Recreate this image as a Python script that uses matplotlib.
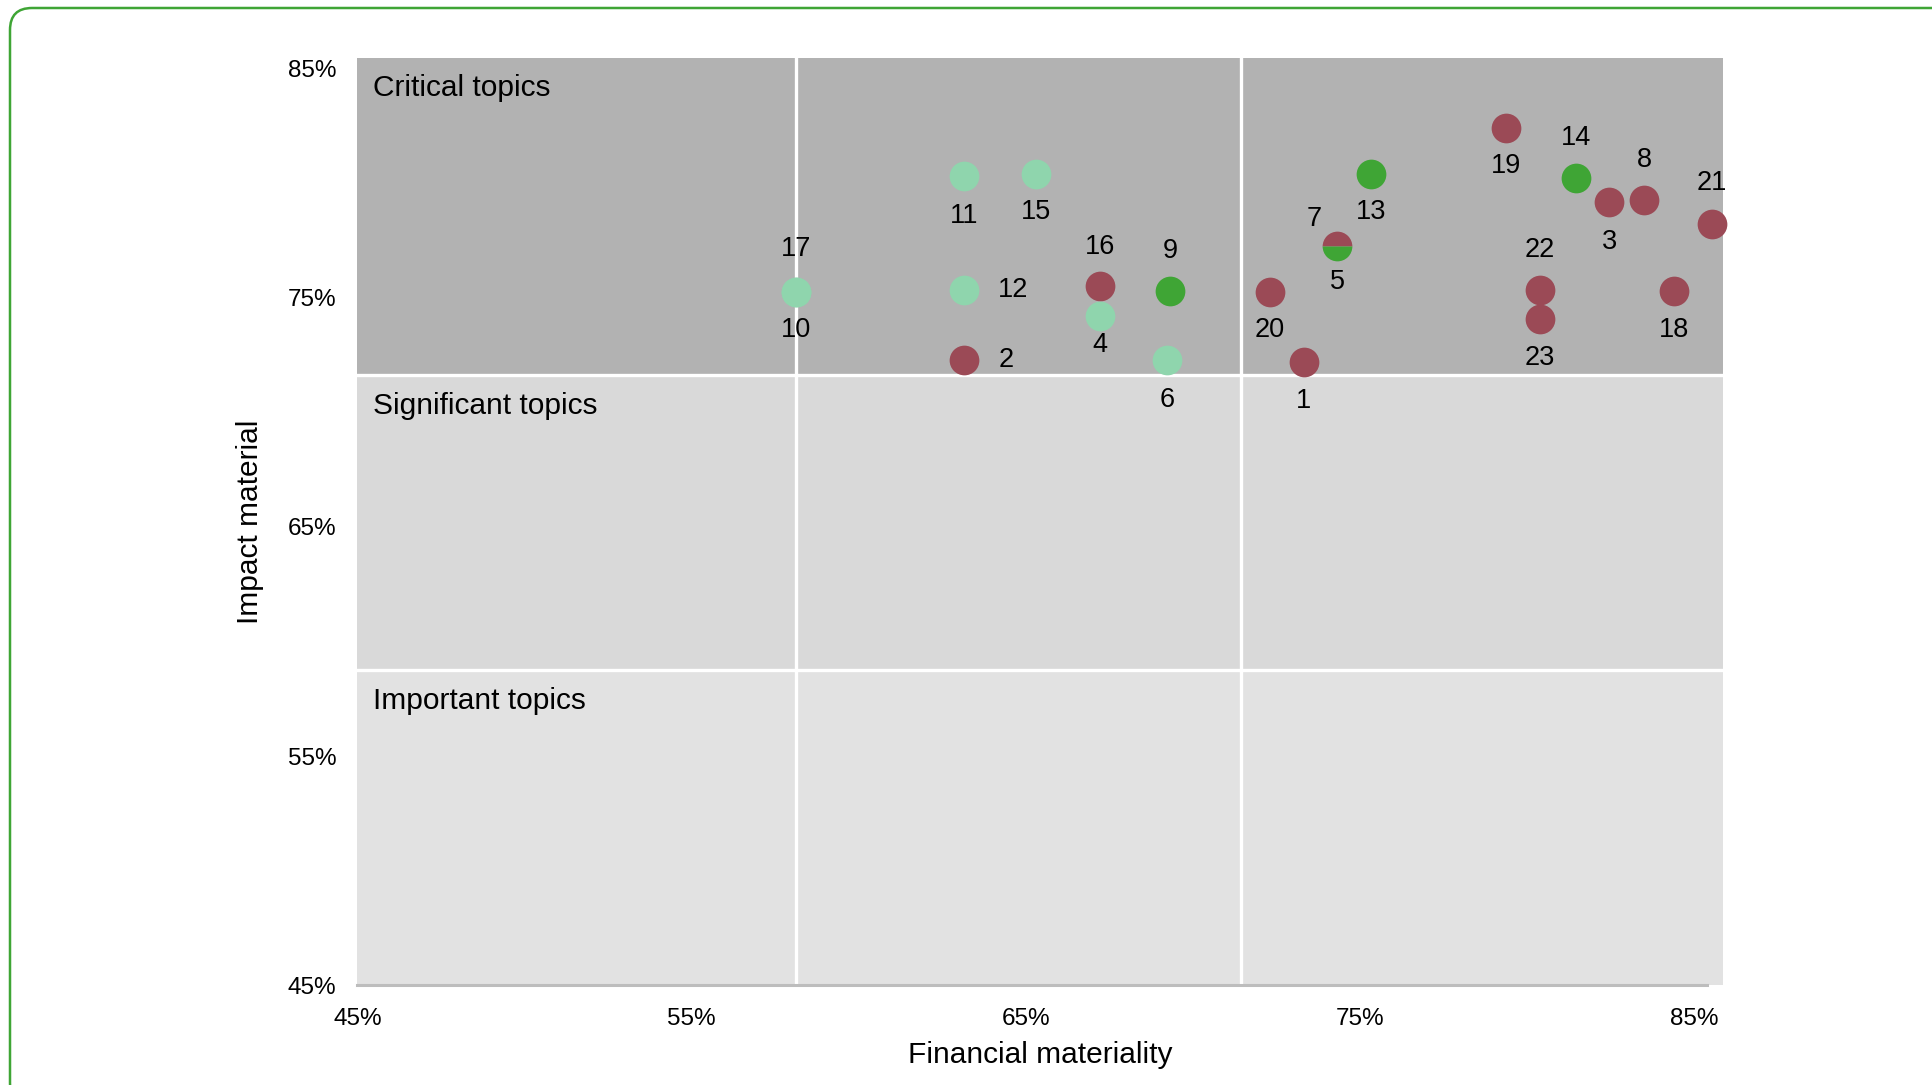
import matplotlib.pyplot as plt
from matplotlib.patches import FancyBboxPatch
from matplotlib.transforms import IdentityTransform

plt.rcParams['font.family'] = ['Liberation Sans', 'DejaVu Sans']

# topic data (financial materiality %, impact materiality %)
topics = ['17', '10', '11', '15', '12', '2', '16', '4', '9', '6', '20', '1',
          '7', '5', '13', '19', '14', '3', '8', '21', '22', '23', '18']
financial = [58.13, 58.13, 63.16, 65.31, 63.16, 63.16, 67.22, 67.22, 69.32, 69.23, 72.30, 73.33,
             74.33, 74.33, 75.35, 79.38, 81.47, 82.47, 83.51, 85.53, 80.40, 80.40, 84.40]
impact = [75.25, 75.25, 80.30, 80.42, 75.35, 72.27, 75.53, 74.22, 75.28, 72.27, 75.27, 72.18,
          77.25, 77.25, 80.40, 82.41, 80.22, 79.17, 79.28, 78.23, 75.35, 74.08, 75.31]
group = ['social', 'social', 'social', 'social', 'social', 'governance', 'governance', 'social',
         'environment', 'social', 'governance', 'governance', 'governance', 'environment',
         'environment', 'governance', 'environment', 'governance', 'governance', 'governance',
         'governance', 'governance', 'governance']

ticks = [45, 55, 65, 75, 85]
tick_labels = ['45%', '55%', '65%', '75%', '85%']

# zone limits
x_cuts = [58.12, 71.46]
y_cuts = [58.76, 71.62]
zones = ['Important topics', 'Significant topics', 'Critical topics']

colors = {'governance': '#9b4a56', 'social': '#8fd5ad', 'environment': '#3fa535'}
zone_colors = ['#e2e2e2', '#d9d9d9', '#b2b2b2']

# where each number goes relative to its dot (points)
label_pos = {'17': (0, 31), '16': (0, 27.5), '9': (0, 29), '14': (0, 29), '8': (0, 28.4),
             '21': (0, 29), '22': (0, 28.4), '12': (35.5, 0), '2': (30, 0), '7': (-17, 19.5),
             '4': (0, -21.3), '5': (0, -25.7), '10': (0, -27.5), '15': (0, -27.5),
             '20': (0, -27.5), '1': (0, -27.5), '13': (0, -27.5), '19': (0, -27.5)}

fig = plt.figure(figsize=(19.32, 10.85), dpi=100)
ax = fig.add_axes([0.1850, 0.0919, 0.7066, 0.8548])

xmin, xmax = 45, 85.86
ymin, ymax = 45, 85.47
ax.set_xlim(xmin, xmax)
ax.set_ylim(ymin, ymax)

bounds = [ymin] + y_cuts + [ymax]
for i in range(3):
    ax.axhspan(bounds[i], bounds[i + 1], color=zone_colors[i], lw=0, zorder=0)
    ax.annotate(zones[i], (xmin, bounds[i + 1]), xytext=(11.5, -22), textcoords='offset points',
                fontsize=21.5, va='center', ha='left', zorder=3)
for xc in x_cuts:
    ax.axvline(xc, color='white', lw=2.4, zorder=1)
for yc in y_cuts:
    ax.axhline(yc, color='white', lw=2.4, zorder=1)

# base line
ax.axhline(ymin, xmin=0, xmax=(85.4 - xmin) / (xmax - xmin), color='#bdbdbd', lw=2.2,
           zorder=2, clip_on=False)

for name, fx, iy, g in zip(topics, financial, impact, group):
    if name == '7':
        ax.plot(fx, iy, 'o', ms=21.4, mew=0, fillstyle='top', markerfacecolor=colors['governance'],
                markerfacecoloralt=colors['environment'], zorder=4, clip_on=False)
    elif name == '5':
        pass
    else:
        ax.plot(fx, iy, 'o', ms=21.4, mew=0, color=colors[g], zorder=4, clip_on=False)
    off = label_pos.get(name, (0, -28.4))
    ax.annotate(name, (fx, iy), xytext=off, textcoords='offset points', fontsize=19.5,
                ha='center', va='center', zorder=5)

ax.set_xticks(ticks)
ax.set_xticklabels(tick_labels)
ax.set_yticks(ticks)
ax.set_yticklabels(tick_labels)
ax.tick_params(length=0, labelsize=17.5, pad=15)
ax.tick_params(axis='x', pad=16)
for s in ax.spines.values():
    s.set_visible(False)

ax.set_xlabel('Financial materiality', fontsize=21.5, labelpad=8)
ax.set_ylabel('Impact material', fontsize=21.5, labelpad=17)

frame = FancyBboxPatch((10, -20), 2000, 1077 + 20, boxstyle='round,pad=0,rounding_size=22',
                       transform=IdentityTransform(), fill=False, edgecolor='#3fa535', lw=1.8)
fig.add_artist(frame)

plt.savefig('out.png', dpi=100)
